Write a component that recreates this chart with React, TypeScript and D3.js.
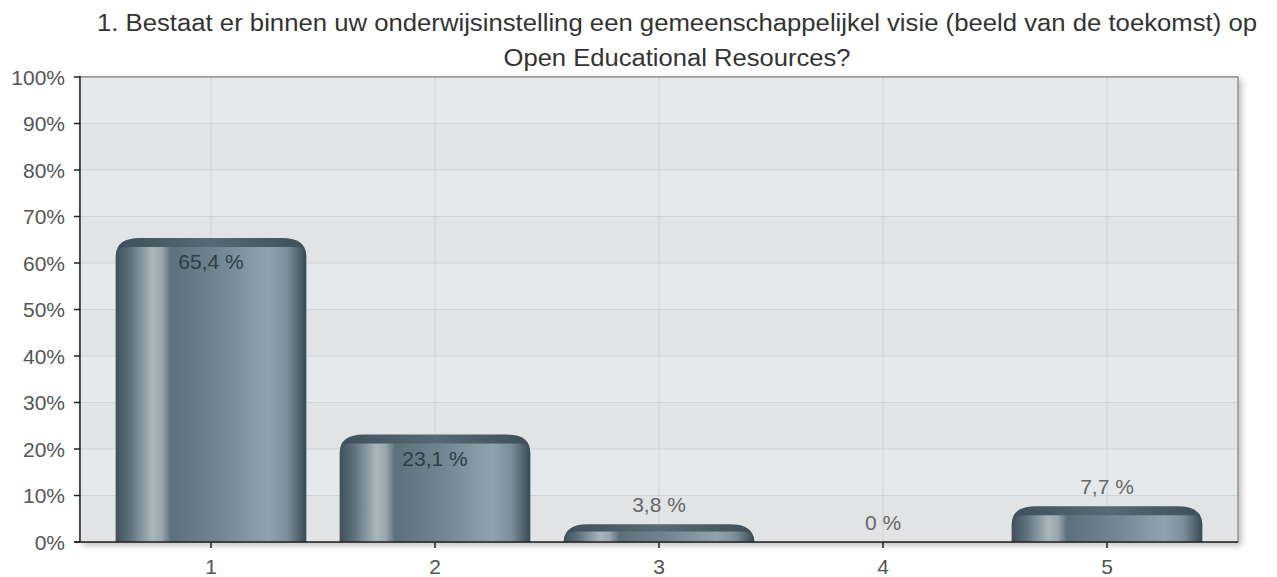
import React from "react";
import * as d3 from "d3";

const categories = ["1", "2", "3", "4", "5"];
const values = [65.4, 23.1, 3.8, 0, 7.7];
const valueLabels = ["65,4 %", "23,1 %", "3,8 %", "0 %", "7,7 %"];
const yTicks = [0, 10, 20, 30, 40, 50, 60, 70, 80, 90, 100];
const titleLines = [
  "1. Bestaat er binnen uw onderwijsinstelling een gemeenschappelijkel visie (beeld van de toekomst) op",
  "Open Educational Resources?",
];
const titleWidths = [1160, 347];

const W = 1277;
const H = 577;
const plotL = 80;
const plotR = 1238;
const plotT = 77;
const plotB = 542;

function barPath(x: number, y: number, w: number, h: number, r: number) {
  const rr = Math.min(r, w / 2);
  const ry = Math.min(r * 0.75, h);
  return `M${x},${y + h} L${x},${y + ry} Q${x},${y} ${x + rr},${y} L${x + w - rr},${y} Q${x + w},${y} ${x + w},${y + ry} L${x + w},${y + h} Z`;
}

export default function App() {
  const x = d3.scaleBand<string>().domain(categories).range([99, 1219]).paddingInner(0.15).paddingOuter(0.075);
  const y = d3.scaleLinear().domain([0, 100]).range([plotB, plotT]);
  const font = "'Liberation Sans', Arial, Helvetica, sans-serif";

  return (
    <svg width={W} height={H} style={{ position: "absolute", left: 0, top: 0, background: "#fff" }}>
      <defs>
        <linearGradient id="barGrad" x1="0" x2="1" y1="0" y2="0">
          <stop offset="0" stopColor="#3f515b" />
          <stop offset="0.08" stopColor="#5f737d" />
          <stop offset="0.19" stopColor="#a9b5ba" />
          <stop offset="0.24" stopColor="#9aa8ae" />
          <stop offset="0.29" stopColor="#5c707b" />
          <stop offset="0.55" stopColor="#728793" />
          <stop offset="0.8" stopColor="#8fa3af" />
          <stop offset="0.9" stopColor="#7b8f9a" />
          <stop offset="1" stopColor="#3a4a53" />
        </linearGradient>
        <linearGradient id="capGrad" x1="0" x2="1" y1="0" y2="0">
          <stop offset="0" stopColor="#3e505a" />
          <stop offset="0.5" stopColor="#566a75" />
          <stop offset="1" stopColor="#3e4f58" />
        </linearGradient>
        <filter id="shadow" x="-5%" y="-5%" width="110%" height="115%">
          <feGaussianBlur in="SourceAlpha" stdDeviation="3" />
          <feOffset dx="3" dy="3" />
          <feComponentTransfer>
            <feFuncA type="linear" slope="0.25" />
          </feComponentTransfer>
          <feMerge>
            <feMergeNode />
            <feMergeNode in="SourceGraphic" />
          </feMerge>
        </filter>
        <clipPath id="plotClip">
          <rect x={plotL} y={plotT} width={plotR - plotL} height={plotB - plotT} />
        </clipPath>
      </defs>

      {titleLines.map((t, i) => (
        <text
          key={i}
          x={677}
          y={31 + i * 35}
          textAnchor="middle"
          fontFamily={font}
          fontSize={23}
          fill="#333"
          textLength={titleWidths[i]}
          lengthAdjust="spacingAndGlyphs"
        >
          {t}
        </text>
      ))}

      {/* plot background with shadow */}
      <rect x={plotL} y={plotT} width={plotR - plotL} height={plotB - plotT} fill="#e6e9ec" stroke="#999" strokeWidth={1.5} filter="url(#shadow)" />
      {yTicks.slice(0, -1).map((t, i) => (
        <rect key={t} x={plotL} y={y(t + 10)} width={plotR - plotL} height={y(t) - y(t + 10)} fill={i % 2 === 1 ? "#e6e9ec" : "#e2e3e5"} />
      ))}
      {yTicks.slice(1, -1).map((t) => (
        <line key={t} x1={plotL} x2={plotR} y1={y(t)} y2={y(t)} stroke="#d0d5d9" strokeWidth={1} />
      ))}
      {categories.map((c) => {
        const cx = (x(c) as number) + x.bandwidth() / 2;
        return <line key={c} x1={cx} x2={cx} y1={plotT} y2={plotB} stroke="#cfd3d7" strokeWidth={1} />;
      })}
      <line x1={plotL} x2={plotR} y1={plotT} y2={plotT} stroke="#999" strokeWidth={1.5} />
      <line x1={plotR} x2={plotR} y1={plotT} y2={plotB} stroke="#999" strokeWidth={1.5} />

      {/* bars */}
      <g clipPath="url(#plotClip)">
        {categories.map((c, i) => {
          const v = values[i];
          if (v <= 0) return null;
          const bx = x(c) as number;
          const bw = x.bandwidth();
          const top = y(v);
          const h = plotB - top;
          const capH = Math.min(9, h * 0.4);
          return (
            <g key={c}>
              <path d={barPath(bx, top, bw, h + 2, 24)} fill="url(#capGrad)" />
              <path d={barPath(bx, top + capH, bw, h + 2 - capH, 12)} fill="url(#barGrad)" />
            </g>
          );
        })}
      </g>

      {/* value labels */}
      {categories.map((c, i) => {
        const v = values[i];
        const cx = (x(c) as number) + x.bandwidth() / 2;
        const top = y(v);
        const inside = plotB - top > 60;
        return (
          <text
            key={c}
            x={cx}
            y={inside ? top + 31 : top - 12}
            textAnchor="middle"
            fontFamily={font}
            fontSize={21}
            fill={inside ? "#2f3d45" : "#666"}
          >
            {valueLabels[i]}
          </text>
        );
      })}

      {/* axes */}
      <line x1={plotL} x2={plotL} y1={plotT - 1} y2={plotB} stroke="#222" strokeWidth={1.5} />
      <line x1={plotL - 6} x2={plotR} y1={plotB} y2={plotB} stroke="#222" strokeWidth={1.5} />
      {yTicks.map((t) => (
        <g key={t}>
          <line x1={plotL - 6} x2={plotL} y1={y(t)} y2={y(t)} stroke="#222" strokeWidth={1.5} />
          <text x={65} y={y(t) + 7.5} textAnchor="end" fontFamily={font} fontSize={21} fill="#555">
            {`${t}%`}
          </text>
        </g>
      ))}
      {categories.map((c) => {
        const cx = (x(c) as number) + x.bandwidth() / 2;
        return (
          <g key={c}>
            <line x1={cx} x2={cx} y1={plotB} y2={plotB + 6} stroke="#222" strokeWidth={1.5} />
            <text x={cx} y={574} textAnchor="middle" fontFamily={font} fontSize={21} fill="#555">
              {c}
            </text>
          </g>
        );
      })}
    </svg>
  );
}
